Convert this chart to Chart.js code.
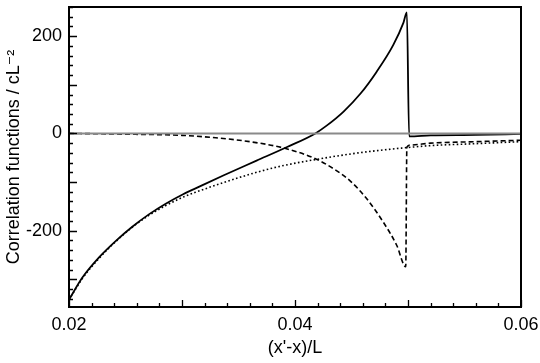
<!DOCTYPE html>
<html>
<head>
<meta charset="utf-8">
<script src="https://cdn.jsdelivr.net/npm/chart.js@4/dist/chart.umd.min.js"></script>
<style>
  html, body { margin: 0; padding: 0; background: #fff; }
  #wrap { width: 540px; height: 363px; }
</style>
</head>
<body>
<div id="wrap"><canvas id="chart1"></canvas></div>
<script>
// values
const solidX = [0.02, 0.0212, 0.0227, 0.0242, 0.0256, 0.0271, 0.0286, 0.0301, 0.0312, 0.0337, 0.0366, 0.0393, 0.0418, 0.0428, 0.0443, 0.0458, 0.0472, 0.0487, 0.0496, 0.0499, 0.0501, 0.052, 0.056, 0.06];
const solidY = [-342, -296, -254, -220, -192, -166, -144, -125, -113, -86, -56, -28, 0, 16, 45, 82, 126, 182, 228, 249, -6, -4, -3, -1];

const dashX = [0.02, 0.025, 0.03, 0.033, 0.036, 0.039, 0.0419, 0.0437, 0.0449, 0.0463, 0.0478, 0.049, 0.0498, 0.0499, 0.0502, 0.052, 0.056, 0.06];
const dashY = [0, -1.5, -4, -9, -17, -30, -53, -77, -98, -133, -182, -230, -274, -28, -24, -20, -17, -14];

const dotX = [0.02, 0.0212, 0.0227, 0.0242, 0.0256, 0.0271, 0.0286, 0.0301, 0.0312, 0.0337, 0.0366, 0.039, 0.042, 0.045, 0.0478, 0.05, 0.052, 0.055, 0.06];
const dotY = [-342, -298, -256, -221, -193, -168, -148, -131, -121, -101, -80, -66, -53, -42, -34, -29, -25, -22, -17];

const zeroX = [0.02, 0.06];
const zeroY = [0, 0];

const xTickLabels = [0.02, 0.04, 0.06];
const yTickLabels = [-200, 0, 200];

const xMin = 0.02, xMax = 0.06;
const yMin = -357, yMax = 260;

function pts(xs, ys) {
  return xs.map((x, i) => ({ x: x, y: ys[i] }));
}

const font = { family: "'Liberation Sans', Arial, 'DejaVu Sans', sans-serif", size: 18 };

// no extra room for edge labels, the box is fixed
function noPad(s) {
  s.paddingTop = 0; s.paddingBottom = 0; s.paddingLeft = 0; s.paddingRight = 0;
}

// inward ticks + box, like the original plot
const frame = {
  id: 'frame',
  afterDatasetsDraw(chart) {
    const { ctx, chartArea: a, scales: { x, y } } = chart;
    ctx.save();
    ctx.strokeStyle = '#000';
    ctx.lineWidth = 1.3;
    ctx.beginPath();
    for (let v = 0.02; v <= 0.0601; v += 0.002) {
      const px = Math.round(x.getPixelForValue(v)) + 0.5;
      const major = Math.abs(v * 100 - Math.round(v * 100)) < 1e-6;
      ctx.moveTo(px, a.bottom);
      ctx.lineTo(px, a.bottom - (major ? 7 : 4));
    }
    for (let v = -340; v <= 260; v += 20) {
      const py = Math.round(y.getPixelForValue(v)) + 0.5;
      const major = v % 100 === 0;
      ctx.moveTo(a.left, py);
      ctx.lineTo(a.left + (major ? 8 : 4), py);
    }
    ctx.stroke();
    ctx.lineWidth = 2;
    ctx.strokeRect(a.left, a.top, a.right - a.left, a.bottom - a.top);
    ctx.restore();
  }
};

new Chart(document.getElementById('chart1'), {
  type: 'line',
  data: {
    datasets: [
      { label: 'zero', data: pts(zeroX, zeroY), borderColor: '#8a8a8a', borderWidth: 2 },
      { label: 'dotted', data: pts(dotX, dotY), borderColor: '#000', borderWidth: 1.6, borderDash: [1.6, 2.4], cubicInterpolationMode: 'monotone' },
      { label: 'dashed', data: pts(dashX, dashY), borderColor: '#000', borderWidth: 1.6, borderDash: [5, 3], cubicInterpolationMode: 'monotone' },
      { label: 'solid', data: pts(solidX, solidY), borderColor: '#000', borderWidth: 1.8, cubicInterpolationMode: 'monotone' },
    ],
  },
  options: {
    responsive: true,
    maintainAspectRatio: false,
    animation: false,
    events: [],
    elements: { point: { radius: 0 } },
    layout: { padding: { top: 7, right: 19, left: 0, bottom: 0 } },
    plugins: { legend: { display: false }, tooltip: { enabled: false } },
    scales: {
      x: {
        type: 'linear',
        min: xMin,
        max: xMax,
        grid: { display: false, drawTicks: false },
        border: { display: false },
        afterBuildTicks: (s) => { s.ticks = xTickLabels.map(v => ({ value: v })); },
        afterFit: (s) => { s.height = 56; noPad(s); },
        ticks: {
          autoSkip: false, maxRotation: 0, padding: 7, color: '#000', font: font,
          callback: (v) => v.toFixed(2),
        },
        title: { display: true, text: "(x'-x)/L", color: '#000', font: font, padding: { top: 0, bottom: 4 } },
      },
      y: {
        type: 'linear',
        min: yMin,
        max: yMax,
        grid: { display: false, drawTicks: false },
        border: { display: false },
        afterBuildTicks: (s) => { s.ticks = yTickLabels.map(v => ({ value: v })); },
        afterFit: (s) => { s.width = 69; noPad(s); },
        ticks: { autoSkip: false, padding: 7, color: '#000', font: font },
        title: { display: true, text: 'Correlation functions / cL\u207B\u00B2', color: '#000', font: font, padding: { top: 3, bottom: 0 } },
      },
    },
  },
  plugins: [frame],
});
</script>
</body>
</html>
